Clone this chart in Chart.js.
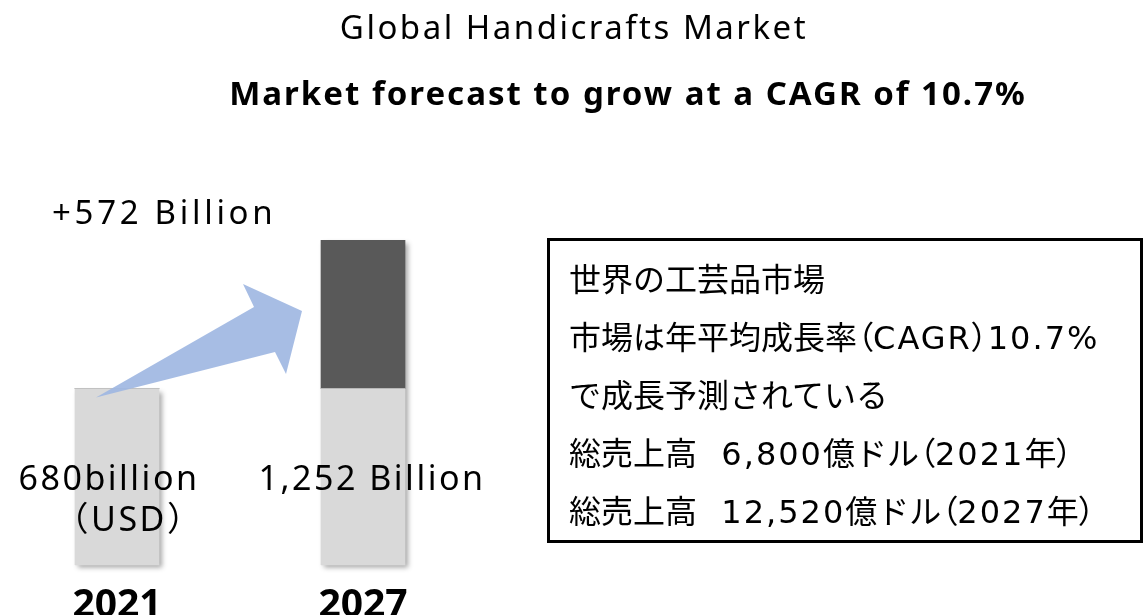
<!DOCTYPE html>
<html>
<head>
<meta charset="utf-8">
<script src="https://cdn.jsdelivr.net/npm/chart.js@4.4.1/dist/chart.umd.min.js"></script>
<style>
  html, body { margin: 0; padding: 0; background: #fff; overflow: hidden; }
  #wrap { position: relative; width: 1145px; height: 615px; overflow: hidden; }
  #holder { position: absolute; left: 0; top: 0; width: 1145px; height: 646px; }
  #note {
    position: absolute; left: 547px; top: 238px; width: 590px; height: 299px;
    border: 3px solid #000; box-sizing: content-box;
    font-family: "Noto Sans CJK JP", "Noto Sans", sans-serif; font-size: 32px; color: #000;
  }
  #note div { position: absolute; left: 19px; line-height: 40px; white-space: pre; }
  #note .palt { font-feature-settings: "palt"; }
  #note .lat { font-family: "DejaVu Sans", sans-serif; letter-spacing: 2px; }
</style>
</head>
<body>
<div id="wrap">
  <div id="holder"><canvas id="chart"></canvas></div>
  <div id="note"></div>
</div>
<script>
const years = [2021, 2027];
const baseValues = [680, 680];     // 2021 market size (billion USD)
const growthValues = [0, 572];     // increase to 2027
const totalLabels = [['680billion', '（USD）'], ['1,252 Billion']];
const growthLabel = '+572 Billion';
const titleText = 'Global Handicrafts Market';
const subtitleText = 'Market forecast to grow at a CAGR of 10.7%';
const noteLines = [
  '世界の工芸品市場',
  '市場は年平均成長率（CAGR）10.7%',
  'で成長予測されている',
  '総売上高  6,800億ドル（2021年）',
  '総売上高  12,520億ドル（2027年）'
];

const FONT = '"Noto Sans", "Noto Sans CJK JP", sans-serif';

// text box on the right: latin runs in a wider face, brackets kept narrow
const note = document.getElementById('note');
noteLines.forEach((t, i) => {
  const d = document.createElement('div');
  t.split(/([（）]|[A-Za-z0-9.,% ]+)/).filter(Boolean).forEach(part => {
    const s = document.createElement('span');
    s.textContent = part;
    if (/[（）]/.test(part)) s.className = 'palt';
    else if (/^[A-Za-z0-9.,% ]+$/.test(part)) s.className = 'lat';
    d.appendChild(s);
  });
  d.style.top = (16 + i * 58) + 'px';
  note.appendChild(d);
});

// shaded block behind each stack so the bars get a soft drop shadow
const shadowPlugin = {
  id: 'barShadow',
  beforeDatasetsDraw(chart) {
    const ctx = chart.ctx;
    const metas = chart.data.datasets.map((_, i) => chart.getDatasetMeta(i));
    years.forEach((_, j) => {
      let top = Infinity, bottom = -Infinity, x = 0, w = 0;
      metas.forEach(m => {
        const el = m.data[j];
        if (!el) return;
        top = Math.min(top, el.y, el.base);
        bottom = Math.max(bottom, el.y, el.base);
        x = el.x; w = el.width;
      });
      ctx.save();
      ctx.shadowColor = 'rgba(0,0,0,0.35)';
      ctx.shadowBlur = 5;
      ctx.shadowOffsetX = 3;
      ctx.shadowOffsetY = 3;
      ctx.fillStyle = '#d9d9d9';
      ctx.fillRect(x - w / 2, top, w, bottom - top);
      ctx.restore();
    });
  }
};

// growth arrow from the 2021 bar towards the 2027 bar
const arrowPlugin = {
  id: 'growthArrow',
  afterDatasetsDraw(chart) {
    const ctx = chart.ctx;
    const b0 = chart.getDatasetMeta(0).data[0];
    const b1 = chart.getDatasetMeta(1).data[1];
    const tx = b0.x - 21, ty = b0.y + 9;
    const px = b1.x - b1.width / 2 - 19, py = b1.y + 71;
    ctx.save();
    ctx.fillStyle = 'rgba(160,183,226,0.92)';
    ctx.beginPath();
    ctx.moveTo(tx, ty);
    ctx.lineTo(px - 48, py - 4);
    ctx.lineTo(px - 59, py - 27);
    ctx.lineTo(px, py);
    ctx.lineTo(px - 16, py + 63);
    ctx.lineTo(px - 27, py + 41);
    ctx.closePath();
    ctx.fill();
    ctx.restore();
  }
};

const textPlugin = {
  id: 'texts',
  afterDraw(chart) {
    const ctx = chart.ctx;
    const area = chart.chartArea;
    ctx.save();
    ctx.fillStyle = '#000';
    ctx.textAlign = 'center';
    ctx.textBaseline = 'middle';
    ctx.letterSpacing = '2.5px';
    ctx.font = '33px ' + FONT;
    ctx.fillText(titleText, 574, 30);
    ctx.letterSpacing = '2px';
    ctx.font = 'bold 33px ' + FONT;
    ctx.fillText(subtitleText, 628, 96);

    ctx.letterSpacing = '3.7px';
    ctx.font = '33px ' + FONT;
    ctx.textAlign = 'left';
    ctx.fillText(growthLabel, area.left + 52, 215);

    ctx.letterSpacing = '2.5px';
    ctx.font = '34px ' + FONT;
    ctx.textAlign = 'center';
    const els = chart.getDatasetMeta(0).data;
    const shifts = [[-8, 12], [9]];
    totalLabels.forEach((lines, j) => {
      lines.forEach((t, k) => {
        ctx.fillText(t, els[j].x + shifts[j][k], 480 + k * 41);
      });
    });
    ctx.restore();
  }
};

new Chart(document.getElementById('chart'), {
  type: 'bar',
  data: {
    datasets: [
      {
        label: '2021 size',
        data: years.map((y, i) => ({ x: y, y: baseValues[i] })),
        backgroundColor: '#d9d9d9',
        barThickness: 84
      },
      {
        label: 'growth',
        data: years.map((y, i) => ({ x: y, y: growthValues[i] })),
        backgroundColor: '#595959',
        barThickness: 84
      }
    ]
  },
  options: {
    responsive: true,
    maintainAspectRatio: false,
    animation: false,
    layout: { padding: { top: 240, left: 0, right: 653, bottom: 0 } },
    scales: {
      x: {
        type: 'linear',
        stacked: true,
        offset: false,
        min: 2021 - 117 / 41,
        max: 2021 - 117 / 41 + 12,
        afterBuildTicks: (scale) => { scale.ticks = years.map(v => ({ value: v })); },
        ticks: {
          color: '#000',
          padding: 17,
          font: { family: FONT, size: 39, weight: 'bold' },
          callback: v => String(v)
        },
        grid: { display: false, drawTicks: false },
        border: { display: false }
      },
      y: {
        display: false,
        stacked: true,
        min: 0,
        max: 1252
      }
    },
    plugins: {
      legend: { display: false },
      tooltip: { enabled: false }
    }
  },
  plugins: [shadowPlugin, arrowPlugin, textPlugin]
});
</script>
</body>
</html>
